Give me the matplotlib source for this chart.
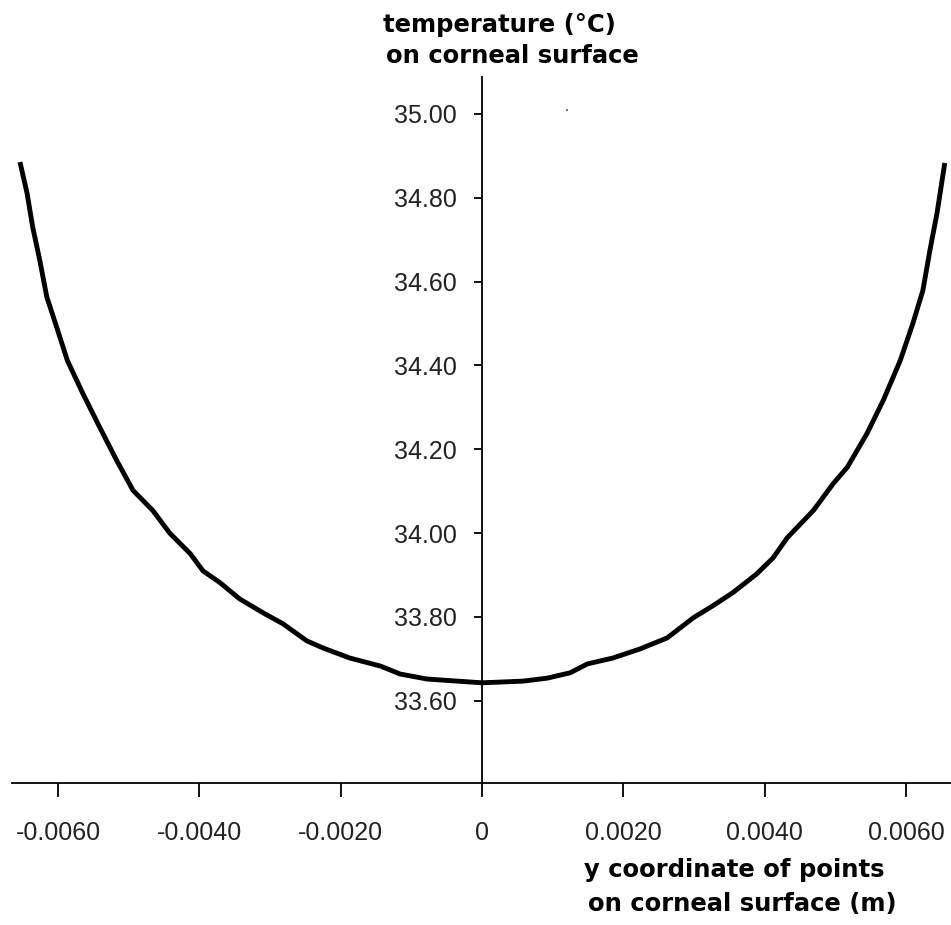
import numpy as np
from matplotlib import pyplot as plt

# y coordinate on corneal surface (m) and temperature (deg C)
yCoord = [-0.00654, -0.00644, -0.00636, -0.00626, -0.00616, -0.00602, -0.00587,
          -0.00565, -0.00541, -0.00517, -0.00494, -0.00466, -0.00442, -0.00413,
          -0.00395, -0.00371, -0.00343, -0.00310, -0.00282, -0.00248, -0.00225,
          -0.00187, -0.00144, -0.00116, -0.00078, -0.00035, 0.0,
          0.00058, 0.00092, 0.00125, 0.00149, 0.00185, 0.00224, 0.00262,
          0.00299, 0.00327, 0.00355, 0.00389, 0.00412, 0.00432, 0.00469,
          0.00497, 0.00517, 0.00545, 0.00568, 0.00592, 0.00610, 0.00624,
          0.00634, 0.00644, 0.00655]
temperature = [34.885, 34.811, 34.730, 34.651, 34.563, 34.491, 34.412,
               34.333, 34.252, 34.173, 34.102, 34.054, 34.000, 33.951,
               33.910, 33.882, 33.843, 33.810, 33.784, 33.743, 33.726,
               33.702, 33.683, 33.664, 33.652, 33.647, 33.643,
               33.647, 33.654, 33.667, 33.688, 33.702, 33.724, 33.750,
               33.798, 33.827, 33.858, 33.903, 33.941, 33.989, 34.054,
               34.118, 34.157, 34.238, 34.317, 34.412, 34.501, 34.579,
               34.675, 34.763, 34.883]

# lone stray point near the top
strayX = [0.00120]
strayY = [35.01]

xTicks = [-0.006, -0.004, -0.002, 0, 0.002, 0.004, 0.006]
xTickLabels = ['-0.0060', '-0.0040', '-0.0020', '0', '0.0020', '0.0040', '0.0060']
yTicks = [33.6, 33.8, 34.0, 34.2, 34.4, 34.6, 34.8, 35.0]
yTickLabels = ['33.60', '33.80', '34.00', '34.20', '34.40', '34.60', '34.80', '35.00']

W, H = 951, 925
fig = plt.figure(figsize=(W / 100, H / 100), dpi=100)
ax = fig.add_axes([12 / W, (H - 783) / H, 939 / W, (783 - 77) / H])

ax.plot(yCoord, temperature, color='black', lw=3.5,
        solid_joinstyle='round', solid_capstyle='butt')
ax.plot(strayX, strayY, 's', color='#777777', ms=1.5, mew=0)

ax.set_xlim(-0.006653, 0.006638)
ax.set_ylim(33.404, 35.088)

for s in ['top', 'right']:
    ax.spines[s].set_visible(False)
ax.spines['left'].set_position(('data', 0))
ax.spines['left'].set_linewidth(1.3)
ax.spines['bottom'].set_linewidth(1.3)

ax.set_xticks(xTicks)
ax.set_xticklabels(xTickLabels)
ax.set_yticks(yTicks)
ax.set_yticklabels(yTickLabels)

tickFont = 'Liberation Sans'
ax.tick_params(axis='x', direction='out', length=10, width=1.3, pad=17,
               labelsize=18, labelcolor='#222222')
ax.tick_params(axis='y', direction='out', length=6, width=1.3, pad=12,
               labelsize=18, labelcolor='#222222')
for lbl in ax.get_xticklabels() + ax.get_yticklabels():
    lbl.set_fontfamily(tickFont)

boldFont = dict(fontfamily='DejaVu Sans', fontweight='bold', fontsize=17.5,
                color='black', ha='left', va='baseline')
fig.text(383 / W, 1 - 32 / H, 'temperature (°C)', **boldFont)
fig.text(386 / W, 1 - 63 / H, 'on corneal surface', **boldFont)
fig.text(584 / W, 1 - 877 / H, 'y coordinate of points', **boldFont)
fig.text(588 / W, 1 - 911 / H, 'on corneal surface (m)', **boldFont)

fig.savefig('out.png', dpi=100)
